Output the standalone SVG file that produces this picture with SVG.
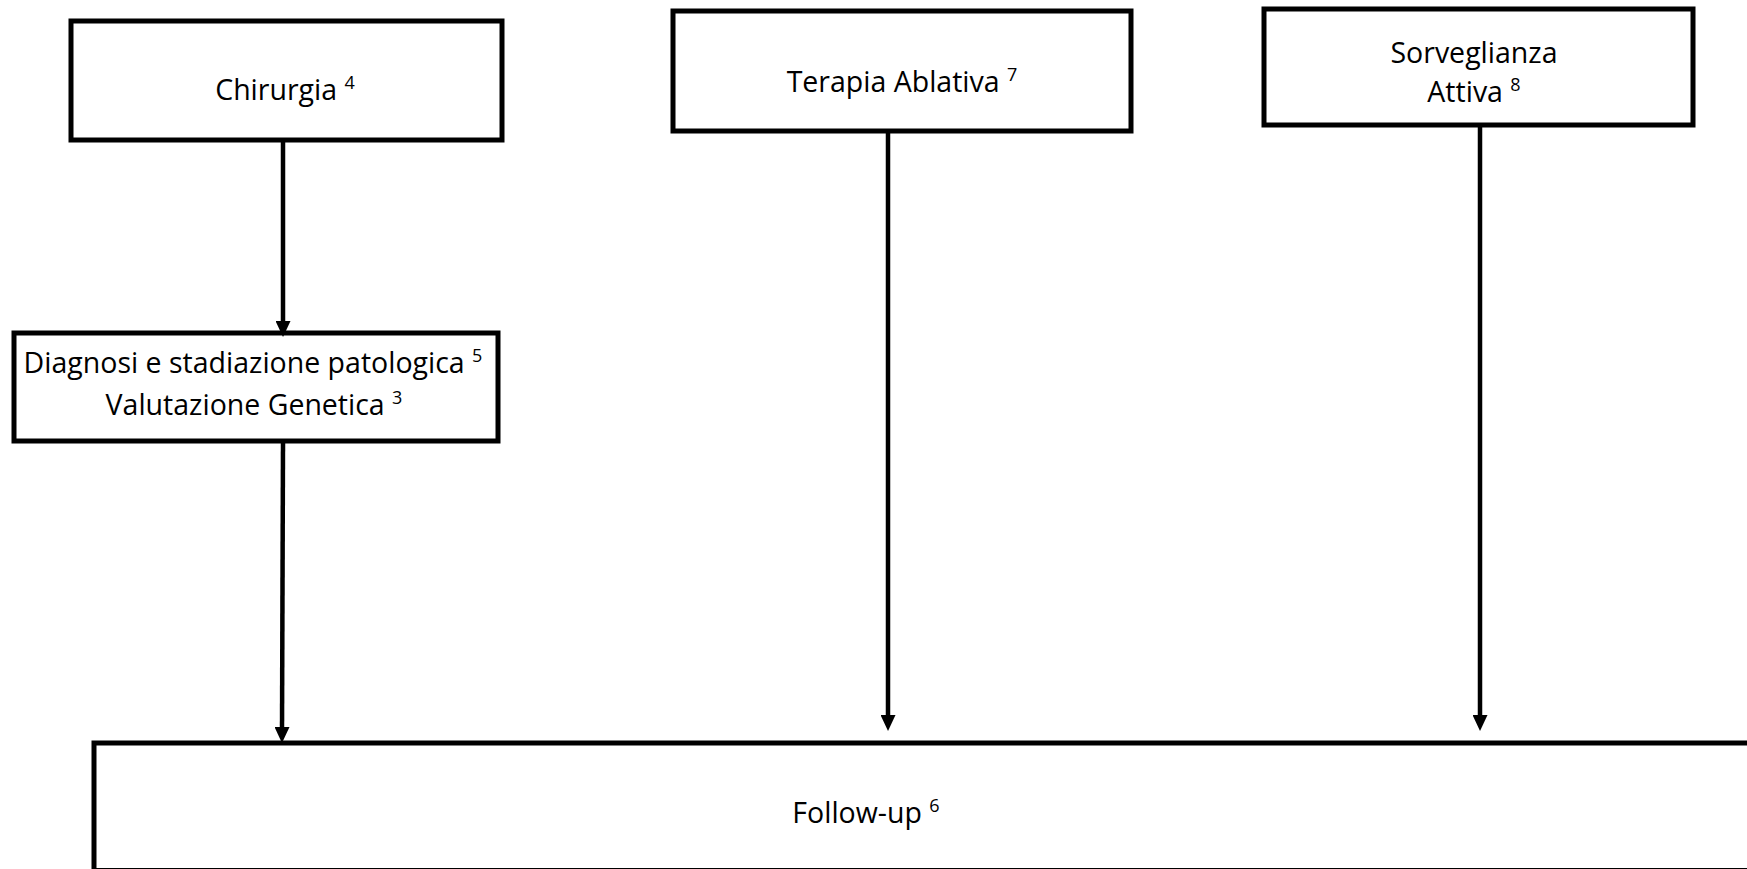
<svg xmlns="http://www.w3.org/2000/svg" width="1747" height="869" viewBox="0 0 1747 869">
<style>
.box{fill:#fff;stroke:#000;stroke-width:5}
.lbl{font-family:"Open Sans","Noto Sans",sans-serif;font-size:28.5px;fill:#000;text-anchor:middle}
.sup{font-size:18px}
.con{stroke:#000;stroke-width:4.5;fill:none}
</style>
<defs>
<marker id="ah" markerUnits="userSpaceOnUse" markerWidth="16" markerHeight="15" refX="5" refY="7.5" orient="auto" viewBox="0 0 16 15">
<path d="M0,0 L16,7.5 L0,15 z" fill="#000"/>
</marker>
</defs>
<rect width="1747" height="869" fill="#fff"/>
<g id="n-chirurgia">
<rect class="box" x="71" y="21" width="431" height="119"/>
<text class="lbl" x="285" y="100">Chirurgia <tspan class="sup" dy="-11">4</tspan></text>
</g>
<g id="n-diagnosi">
<rect class="box" x="14" y="333" width="484" height="108"/>
<text class="lbl" x="253" y="373">Diagnosi e stadiazione patologica <tspan class="sup" dy="-11">5</tspan></text>
<text class="lbl" x="254" y="415">Valutazione Genetica <tspan class="sup" dy="-11">3</tspan></text>
</g>
<g id="n-terapia">
<rect class="box" x="673" y="11" width="458" height="120"/>
<text class="lbl" x="902" y="92">Terapia Ablativa <tspan class="sup" dy="-11">7</tspan></text>
</g>
<g id="n-sorveglianza">
<rect class="box" x="1264" y="9" width="429" height="116"/>
<text class="lbl" x="1474" y="63">Sorveglianza</text>
<text class="lbl" x="1474" y="102">Attiva <tspan class="sup" dy="-11">8</tspan></text>
</g>
<g id="n-followup">
<rect class="box" x="94" y="743" width="1700" height="127.5"/>
<text class="lbl" x="866" y="823">Follow-up <tspan class="sup" dy="-11">6</tspan></text>
</g>
<g id="connectors">
<line class="con" x1="283" y1="142" x2="283" y2="326" marker-end="url(#ah)"/>
<line class="con" x1="283" y1="443" x2="282" y2="732" marker-end="url(#ah)"/>
<line class="con" x1="888" y1="133" x2="888" y2="720" marker-end="url(#ah)"/>
<line class="con" x1="1480" y1="127" x2="1480" y2="720" marker-end="url(#ah)"/>
</g>
</svg>
